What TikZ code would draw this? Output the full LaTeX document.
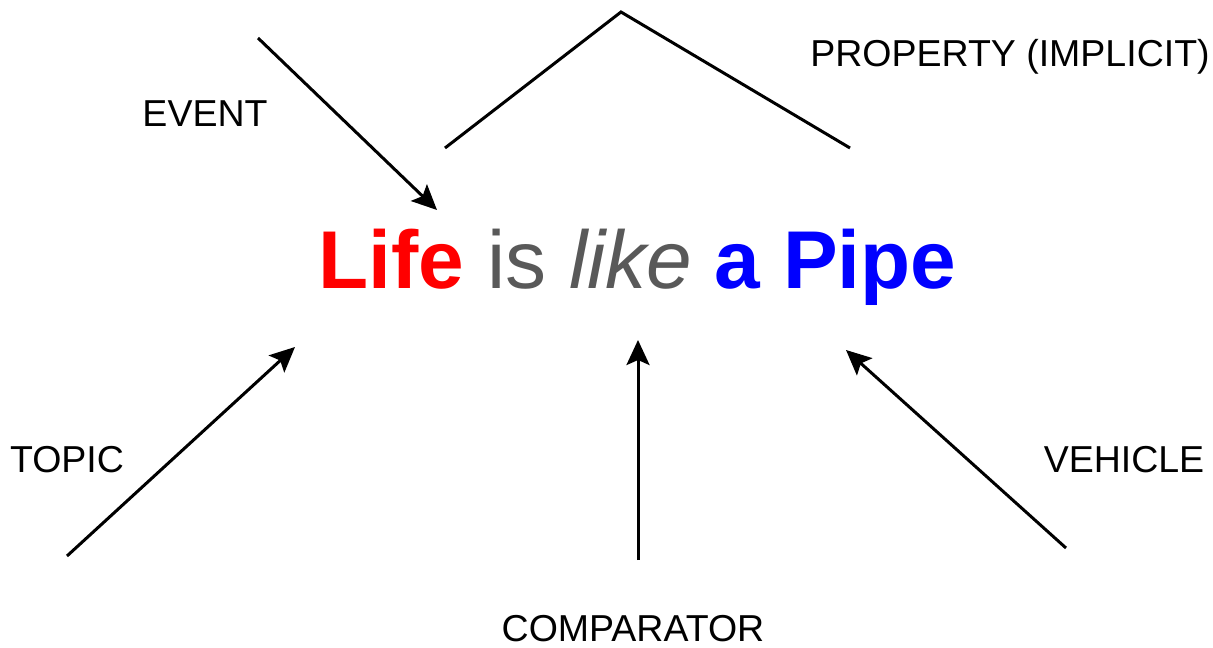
\documentclass[tikz,border=0pt]{standalone}
\usepackage{fontspec}
\setmainfont{Liberation Sans}
\usetikzlibrary{arrows.meta}
\definecolor{lifered}{HTML}{FF0000}
\definecolor{isgray}{HTML}{595959}
\definecolor{pipeblue}{HTML}{0000FF}
\begin{document}
\begin{tikzpicture}[x=1pt,y=-1pt,
  lbl/.style={font=\fontsize{37.5}{40}\selectfont, anchor=base, inner sep=0pt},
  conn/.style={line width=3pt, black},
  arr/.style={conn, -{Stealth[length=25pt,width=23pt,inset=5pt]}}]
\useasboundingbox (0,0) rectangle (1213,648);
\node[anchor=base, inner sep=0pt, font=\fontsize{82}{90}\selectfont] (main) at (637.5,288)
  {\textcolor{lifered}{\bfseries Life} \textcolor{isgray}{is \itshape like} \textcolor{pipeblue}{\bfseries a Pipe}};
\node[lbl] (event) at (205,126) {EVENT};
\node[lbl] (property) at (1010,66) {PROPERTY (IMPLICIT)};
\node[lbl] (topic) at (67,472) {TOPIC};
\node[lbl, text depth=0pt] (comparator) at (633,641) {COMPARATOR};
\node[lbl] (vehicle) at (1124,472) {VEHICLE};
\coordinate (evS) at (258,38);
\coordinate (evE) at (437,210);
\coordinate (prA) at (445,148);
\coordinate (prB) at (621,12);
\coordinate (prC) at (850,148);
\coordinate (toS) at (67,556);
\coordinate (toE) at (295,347);
\coordinate (coS) at (638,560);
\coordinate (coE) at (638,340);
\coordinate (veS) at (1066,548);
\coordinate (veE) at (846,350);
\draw[arr] (evS) -- (evE);
\draw[conn] (prA) -- (prB) -- (prC);
\draw[arr] (toS) -- (toE);
\draw[arr] (coS) -- (coE);
\draw[arr] (veS) -- (veE);
\end{tikzpicture}
\end{document}
